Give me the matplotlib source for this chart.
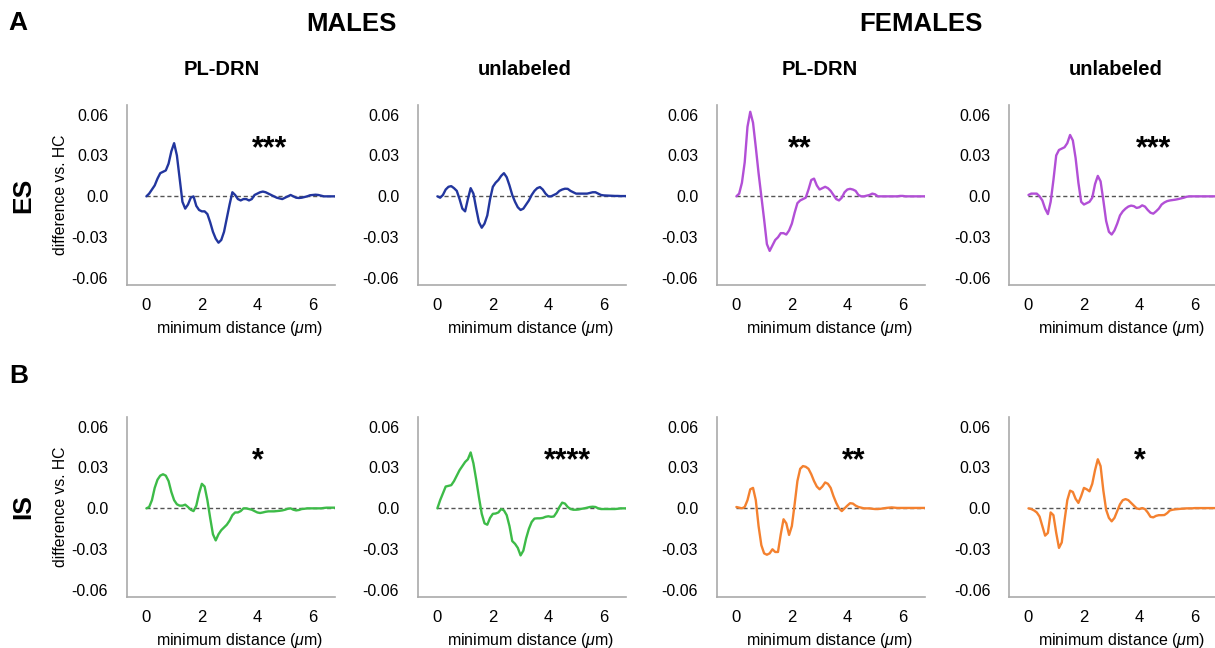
import numpy as np
import matplotlib
matplotlib.use("Agg")
import matplotlib.pyplot as plt

plt.rcParams['font.family'] = ['Liberation Sans', 'DejaVu Sans']
plt.rcParams['mathtext.fontset'] = 'custom'
plt.rcParams['mathtext.rm'] = 'Liberation Sans'
plt.rcParams['mathtext.it'] = 'Liberation Sans:italic'

# ---------------- data ----------------
distance = np.arange(69) / 10.0   # minimum distance (um), 0.0 ... 6.8

es_male_pl = [0.000, 0.002, 0.005, 0.008, 0.013, 0.017, 0.018, 0.019, 0.024, 0.033,
              0.039, 0.030, 0.013, -0.004, -0.009, -0.006, -0.001, 0.000, -0.007, -0.010,
              -0.011, -0.011, -0.013, -0.019, -0.026, -0.031, -0.034, -0.032, -0.026, -0.016,
              -0.006, 0.003, 0.001, -0.002, -0.003, -0.002, -0.002, -0.003, -0.002, 0.001,
              0.002, 0.003, 0.0035, 0.003, 0.002, 0.001, 0.000, -0.001, -0.0015, -0.002,
              -0.001, 0.000, 0.001, 0.000, -0.001, -0.0012, -0.001, -0.0005, 0.000, 0.0008,
              0.001, 0.0012, 0.001, 0.0005, 0.0, 0.0, 0.0, 0.0, 0.0]
es_male_un = [0.000, -0.001, 0.001, 0.005, 0.007, 0.0075, 0.006, 0.004, -0.002, -0.009,
              -0.011, -0.002, 0.006, 0.002, -0.009, -0.019, -0.023, -0.020, -0.014, -0.002,
              0.007, 0.010, 0.012, 0.015, 0.017, 0.014, 0.008, 0.001, -0.004, -0.008,
              -0.010, -0.009, -0.006, -0.003, 0.001, 0.004, 0.006, 0.0068, 0.005, 0.002,
              0.000, 0.000, 0.001, 0.002, 0.004, 0.005, 0.0056, 0.0055, 0.004, 0.003,
              0.002, 0.002, 0.002, 0.002, 0.002, 0.0025, 0.003, 0.003, 0.002, 0.001,
              0.0007, 0.0006, 0.0005, 0.0004, 0.0003, 0.0003, 0.0002, 0.0002, 0.0002]
es_female_pl = [0.000, 0.002, 0.010, 0.025, 0.051, 0.062, 0.054, 0.036, 0.017, 0.000,
                -0.017, -0.035, -0.040, -0.036, -0.032, -0.030, -0.027, -0.027, -0.028, -0.025,
                -0.020, -0.012, -0.005, -0.003, -0.002, -0.001, 0.005, 0.012, 0.013, 0.008,
                0.005, 0.006, 0.007, 0.006, 0.004, 0.001, -0.002, -0.003, -0.001, 0.003,
                0.005, 0.0055, 0.005, 0.004, 0.001, 0.000, 0.000, 0.0005, 0.001, 0.002,
                0.0015, 0.000, 0.000, 0.000, 0.000, 0.000, 0.000, 0.0, 0.0, 0.0003,
                0.0003, 0.0, 0.0, 0.0, 0.0, 0.0, 0.0, 0.0, 0.0]
es_female_un = [0.001, 0.002, 0.002, 0.002, 0.000, -0.003, -0.009, -0.013, -0.004, 0.012,
                0.030, 0.034, 0.035, 0.036, 0.039, 0.045, 0.041, 0.028, 0.010, -0.004,
                -0.006, -0.005, -0.004, -0.001, 0.009, 0.015, 0.011, -0.003, -0.018, -0.026,
                -0.028, -0.025, -0.020, -0.014, -0.011, -0.009, -0.0075, -0.0068, -0.0072, -0.0085,
                -0.008, -0.0066, -0.0075, -0.010, -0.012, -0.0127, -0.011, -0.009, -0.006, -0.0045,
                -0.0035, -0.003, -0.0027, -0.0024, -0.002, -0.0015, -0.001, -0.0003, 0.0, 0.0,
                0.0, 0.0, 0.0, 0.0, 0.0, 0.0, 0.0, 0.0, 0.0]
is_male_pl = [0.000, 0.001, 0.006, 0.015, 0.021, 0.024, 0.025, 0.024, 0.020, 0.012,
              0.006, 0.003, 0.002, 0.002, 0.0027, 0.001, -0.001, -0.002, 0.002, 0.011,
              0.018, 0.016, 0.006, -0.007, -0.019, -0.0235, -0.019, -0.016, -0.014, -0.012,
              -0.009, -0.005, -0.003, -0.003, -0.002, 0.000, 0.000, -0.0005, -0.001, -0.002,
              -0.003, -0.0034, -0.003, -0.0025, -0.0022, -0.0022, -0.0022, -0.002, -0.0018, -0.0015,
              -0.001, -0.0003, 0.000, -0.001, -0.0015, -0.0012, -0.0005, -0.0003, 0.0, 0.0,
              0.0, 0.0, 0.0, 0.0, 0.0003, 0.0005, 0.0005, 0.0005, 0.0005]
is_male_un = [0.000, 0.006, 0.011, 0.016, 0.0165, 0.017, 0.020, 0.024, 0.028, 0.031,
              0.034, 0.036, 0.041, 0.033, 0.021, 0.008, -0.004, -0.011, -0.012, -0.007,
              -0.004, -0.0038, -0.003, -0.0005, -0.0015, -0.005, -0.013, -0.024, -0.026, -0.029,
              -0.0345, -0.031, -0.022, -0.015, -0.010, -0.0075, -0.0073, -0.0073, -0.007, -0.0062,
              -0.0058, -0.0062, -0.006, -0.003, 0.001, 0.0042, 0.0035, 0.001, -0.0005, -0.001,
              -0.001, -0.0008, -0.0003, 0.0, 0.0005, 0.001, 0.0012, 0.001, 0.0, -0.0005,
              -0.0005, -0.0005, -0.0005, -0.0005, -0.0005, -0.0003, 0.0, 0.0, 0.0]
is_female_pl = [0.001, 0.0005, 0.000, 0.001, 0.006, 0.014, 0.015, 0.006, -0.013, -0.027,
                -0.033, -0.034, -0.033, -0.030, -0.032, -0.032, -0.019, -0.008, -0.011, -0.0195,
                -0.013, 0.003, 0.020, 0.029, 0.031, 0.0305, 0.029, 0.025, 0.020, 0.016,
                0.014, 0.016, 0.019, 0.018, 0.015, 0.009, 0.004, 0.000, -0.002, 0.000,
                0.002, 0.0038, 0.0035, 0.002, 0.001, 0.0005, 0.0, 0.0, 0.0, -0.0003,
                -0.0005, -0.0005, -0.0003, 0.0, 0.0003, 0.0005, 0.0007, 0.0005, 0.0003, 0.0003,
                0.0003, 0.0003, 0.0003, 0.0003, 0.0003, 0.0003, 0.0003, 0.0003, 0.0003]
is_female_un = [0.000, -0.0005, -0.0015, -0.003, -0.006, -0.013, -0.020, -0.018, -0.003, -0.005,
                -0.018, -0.029, -0.025, -0.009, 0.006, 0.013, 0.012, 0.007, 0.004, 0.009,
                0.015, 0.014, 0.0125, 0.018, 0.028, 0.036, 0.031, 0.013, -0.001, -0.007,
                -0.0095, -0.007, -0.002, 0.003, 0.006, 0.0068, 0.006, 0.004, 0.002, 0.000,
                -0.0005, 0.0002, -0.0005, -0.003, -0.0062, -0.0066, -0.0055, -0.005, -0.005, -0.0049,
                -0.0035, -0.0015, -0.001, -0.0007, -0.0005, -0.0003, -0.0002, 0.0, 0.0, 0.0,
                0.0002, 0.0002, 0.0002, 0.0002, 0.0002, 0.0002, 0.0002, 0.0002, 0.0002]

series = [[es_male_pl, es_male_un, es_female_pl, es_female_un],
          [is_male_pl, is_male_un, is_female_pl, is_female_un]]
row_colors = [["#22369e", "#22369e", "#b24fd6", "#b24fd6"],
              ["#3dbb48", "#3dbb48", "#f4812f", "#f4812f"]]
stars = [["***", "", "**", "***"], ["*", "****", "**", "*"]]
star_x = [[4.45, 0, 2.27, 4.5], [4.0, 4.7, 4.24, 4.03]]
star_y = 0.029

yticks = [0.06, 0.03, 0.0, -0.03, -0.06]
ytick_labels = ["0.06", "0.03", "0.0", "-0.03", "-0.06"]
xticks = [0, 2, 4, 6]

col_titles = ["PL-DRN", "unlabeled", "PL-DRN", "unlabeled"]
row_labels = ["ES", "IS"]

# ---------------- layout ----------------
fig = plt.figure(figsize=(12.15, 6.48), dpi=100)
lefts = [0.1045, 0.3440, 0.5901, 0.8305]
bottoms = [0.5602, 0.0787]
w, h = 0.1712, 0.2778

for r in range(2):
    for c in range(4):
        ax = fig.add_axes([lefts[c], bottoms[r], w, h])
        y = series[r][c]
        ax.hlines(0, distance[0], distance[-1], colors="#555555",
                  linestyles=(0, (3, 2)), linewidth=1.0, zorder=1)
        ax.plot(distance, y, color=row_colors[r][c], lw=1.7, zorder=2,
                solid_capstyle='round', solid_joinstyle='round')
        ax.set_xlim(-0.7, 6.8)
        ax.set_ylim(-0.065, 0.067)
        ax.set_yticks(yticks)
        ax.set_yticklabels(ytick_labels)
        ax.set_xticks(xticks)
        ax.tick_params(axis='y', length=0, pad=13.5, labelsize=11.5)
        ax.tick_params(axis='x', length=0, pad=9.5, labelsize=12)
        for s in ['top', 'right']:
            ax.spines[s].set_visible(False)
        for s in ['left', 'bottom']:
            ax.spines[s].set_color('#aaaaaa')
            ax.spines[s].set_linewidth(1.2)
        ax.set_xlabel(r"minimum distance ($\mu$m)", fontsize=11.5)
        ax.xaxis.set_label_coords(0.54, -0.19)
        if c == 0:
            ax.set_ylabel("difference vs. HC", fontsize=11.3)
            ax.yaxis.set_label_coords(-0.285, 0.5)
        if stars[r][c]:
            ax.text(star_x[r][c], star_y, stars[r][c], ha='center', va='baseline',
                    fontsize=22, fontweight='bold')

# titles
title_x = [0.1827, 0.432, 0.675, 0.918]
for c in range(4):
    fig.text(title_x[c], 0.892, col_titles[c], ha='center', va='center',
             fontsize=14.5, fontweight='bold')
fig.text(0.289, 0.963, "MALES", ha='center', va='center', fontsize=18.5, fontweight='bold')
fig.text(0.758, 0.963, "FEMALES", ha='center', va='center', fontsize=18.5, fontweight='bold')
fig.text(0.015, 0.964, "A", ha='center', va='center', fontsize=19, fontweight='bold')
fig.text(0.0156, 0.420, "B", ha='center', va='center', fontsize=19, fontweight='bold')
fig.text(0.019, 0.698, row_labels[0], ha='center', va='center', rotation=90,
         fontsize=19, fontweight='bold')
fig.text(0.019, 0.218, row_labels[1], ha='center', va='center', rotation=90,
         fontsize=19, fontweight='bold')

fig.savefig("out.png", dpi=100, facecolor='white')
